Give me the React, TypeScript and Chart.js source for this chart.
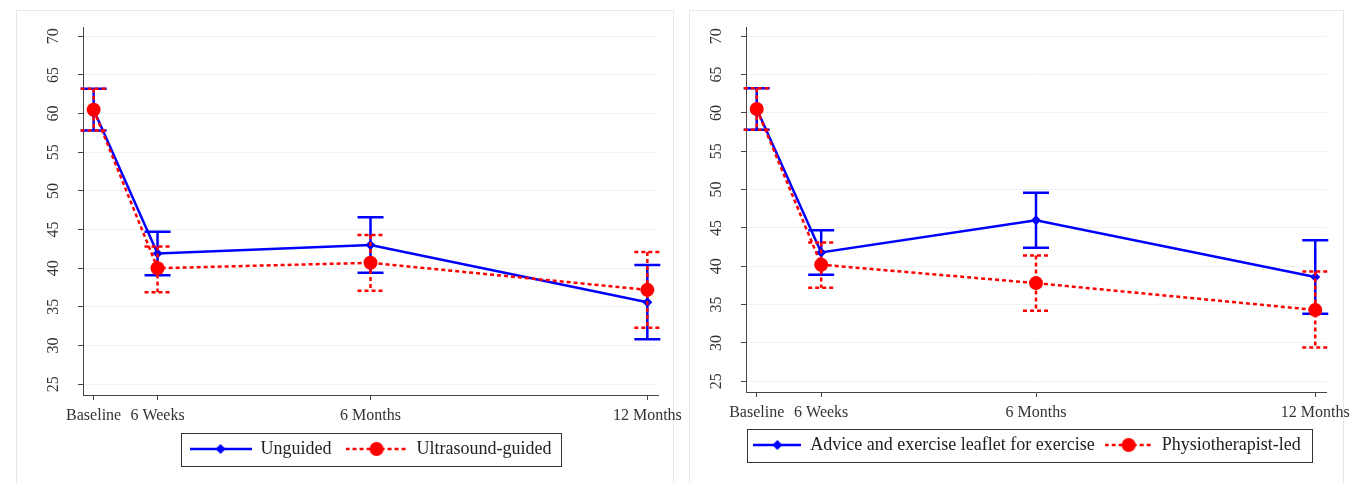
import React, { useEffect, useRef } from 'react';
import { Chart, registerables } from 'chart.js';

Chart.register(...registerables);

// ---- data ----
const WEEKS = [0, 6, 26, 52];
const X_LABELS = ['Baseline', '6 Weeks', '6 Months', '12 Months'];
const Y_TICKS = [25, 30, 35, 40, 45, 50, 55, 60, 65, 70];

// Left panel
const UNGUIDED_MEAN = [60.5, 41.9, 43.0, 35.6];
const UNGUIDED_LO = [57.8, 39.1, 39.4, 30.8];
const UNGUIDED_HI = [63.2, 44.7, 46.6, 40.4];
const ULTRASOUND_MEAN = [60.5, 40.0, 40.7, 37.2];
const ULTRASOUND_LO = [57.8, 36.9, 37.1, 32.3];
const ULTRASOUND_HI = [63.2, 42.8, 44.3, 42.1];

// Right panel
const ADVICE_MEAN = [60.5, 41.8, 46.0, 38.6];
const ADVICE_LO = [57.8, 38.9, 42.4, 33.8];
const ADVICE_HI = [63.2, 44.7, 49.6, 43.4];
const PHYSIO_MEAN = [60.5, 40.2, 37.8, 34.3];
const PHYSIO_LO = [57.8, 37.2, 34.2, 29.4];
const PHYSIO_HI = [63.2, 43.1, 41.4, 39.3];

const SERIF = '"Liberation Serif", "Times New Roman", Times, serif';
const BLUE = '#0000ff';
const RED = '#ff0000';
const AXIS = '#444444';
const GRID = '#eef2f2';
const TEXT = '#333333';
const DASH = [4, 3];
const LINE_W = 2.5;

type Series = {
  label: string;
  mean: number[];
  lo: number[];
  hi: number[];
  color: string;
  dashed: boolean;
  marker: 'circle' | 'rectRot';
  radius: number;
};

function makeSample(color: string, dashed: boolean, marker: string, radius: number, width: number) {
  const c = document.createElement('canvas');
  c.width = width;
  c.height = 16;
  const ctx = c.getContext('2d')!;
  ctx.strokeStyle = color;
  ctx.lineWidth = LINE_W;
  if (dashed) ctx.setLineDash(DASH);
  ctx.beginPath();
  ctx.moveTo(0, 8);
  ctx.lineTo(width, 8);
  ctx.stroke();
  ctx.setLineDash([]);
  ctx.fillStyle = color;
  ctx.beginPath();
  if (marker === 'circle') {
    ctx.arc(width / 2, 8, radius, 0, Math.PI * 2);
  } else {
    ctx.moveTo(width / 2, 8 - radius);
    ctx.lineTo(width / 2 + radius, 8);
    ctx.lineTo(width / 2, 8 + radius);
    ctx.lineTo(width / 2 - radius, 8);
    ctx.closePath();
  }
  ctx.fill();
  return c;
}

const errorBarPlugin = {
  id: 'errorBars',
  beforeDatasetDraw(chart: any, args: any) {
    const ds = chart.data.datasets[args.index];
    if (!ds.ciLow) return;
    const xs = chart.scales.x;
    const ys = chart.scales.y;
    const ctx = chart.ctx;
    const half = ds.capHalf || 13;
    ctx.save();
    ctx.strokeStyle = ds.borderColor;
    ctx.lineWidth = LINE_W;
    ctx.setLineDash(ds.borderDash || []);
    for (let i = 0; i < ds.data.length; i++) {
      const px = xs.getPixelForValue(ds.data[i].x);
      const pl = ys.getPixelForValue(ds.ciLow[i]);
      const ph = ys.getPixelForValue(ds.ciHigh[i]);
      ctx.beginPath();
      ctx.moveTo(px, ph);
      ctx.lineTo(px, pl);
      ctx.moveTo(px - half, ph);
      ctx.lineTo(px + half, ph);
      ctx.moveTo(px - half, pl);
      ctx.lineTo(px + half, pl);
      ctx.stroke();
    }
    ctx.restore();
  },
};

const legendBorderPlugin = {
  id: 'legendBorder',
  afterUpdate(chart: any, _args: any, opts: any) {
    const lg = chart.legend;
    const shift = (opts && opts.shiftX) || 0;
    if (!lg || !shift) return;
    lg.left += shift;
    lg.right += shift;
    (lg.legendHitBoxes || []).forEach((b: any) => {
      b.left += shift;
    });
  },
  afterDraw(chart: any, _args: any, opts: any) {
    const lg = chart.legend;
    if (!lg || !lg.legendHitBoxes || !lg.legendHitBoxes.length) return;
    const hb = lg.legendHitBoxes;
    let minL = Infinity;
    let maxR = -Infinity;
    hb.forEach((b: any) => {
      minL = Math.min(minL, b.left);
      maxR = Math.max(maxR, b.left + b.width);
    });
    const cy = hb[0].top + hb[0].height / 2;
    const left = Math.round(minL - (opts.padLeft || 6)) + 0.5;
    const right = Math.round(maxR + (opts.padRight || 8)) + 0.5;
    const top = Math.round(cy - 16.5) + 0.5;
    const bottom = Math.round(cy + 16.5) + 0.5;
    const ctx = chart.ctx;
    ctx.save();
    ctx.strokeStyle = '#333333';
    ctx.lineWidth = 1;
    ctx.setLineDash([]);
    ctx.strokeRect(left, top, right - left, bottom - top);
    ctx.restore();
  },
};

type PanelCfg = {
  left: number;
  width: number;
  boxWidth: number;
  yAxisWidth: number;
  xAxisHeight: number;
  padRight: number;
  padBottom: number;
  legendPadding: number;
  sampleWidth: number;
  boxPadLeft: number;
  boxPadRight: number;
  shiftX: number;
  series: Series[];
};

function Panel({ cfg }: { cfg: PanelCfg }) {
  const ref = useRef<HTMLCanvasElement>(null);
  useEffect(() => {
    if (!ref.current) return;
    const datasets = cfg.series.map((s, k) => ({
      label: s.label,
      data: WEEKS.map((w, i) => ({ x: w, y: s.mean[i] })),
      borderColor: s.color,
      backgroundColor: s.color,
      borderWidth: LINE_W,
      borderDash: s.dashed ? DASH : [],
      pointStyle: s.marker,
      pointRadius: s.radius,
      pointBorderWidth: 0,
      pointBackgroundColor: s.color,
      tension: 0,
      fill: false,
      order: cfg.series.length - k,
      ciLow: s.lo,
      ciHigh: s.hi,
      capHalf: 13,
    }));
    const samples = cfg.series.map((s) => makeSample(s.color, s.dashed, s.marker, s.radius, cfg.sampleWidth));
    const chart = new Chart(ref.current, {
      type: 'line',
      data: { datasets: datasets as any },
      plugins: [errorBarPlugin, legendBorderPlugin],
      options: {
        animation: false,
        responsive: false,
        maintainAspectRatio: false,
        layout: { padding: { top: 17, left: 0, right: cfg.padRight, bottom: cfg.padBottom } },
        scales: {
          x: {
            type: 'linear',
            min: -1,
            max: 53,
            afterBuildTicks: (scale: any) => {
              scale.ticks = WEEKS.map((v) => ({ value: v }));
            },
            afterFit: (scale: any) => {
              scale.height = cfg.xAxisHeight;
            },
            ticks: {
              autoSkip: false,
              maxRotation: 0,
              minRotation: 0,
              padding: 6,
              color: TEXT,
              font: { family: SERIF, size: 16 },
              callback: (v: any) => X_LABELS[WEEKS.indexOf(Number(v))] ?? '',
            },
            grid: {
              display: true,
              drawOnChartArea: false,
              drawTicks: true,
              tickLength: 5,
              tickColor: AXIS,
              color: AXIS,
            },
            border: { display: true, color: AXIS, width: 1 },
          },
          y: {
            type: 'linear',
            min: 23.6,
            max: 71.2,
            afterBuildTicks: (scale: any) => {
              scale.ticks = Y_TICKS.map((v) => ({ value: v }));
            },
            afterFit: (scale: any) => {
              scale.width = cfg.yAxisWidth;
              scale.paddingTop = 8;
              scale.paddingBottom = 8;
            },
            ticks: {
              minRotation: 90,
              maxRotation: 90,
              crossAlign: 'center',
              padding: 16,
              color: TEXT,
              font: { family: SERIF, size: 16 },
              callback: (v: any) => String(v),
            },
            grid: {
              display: true,
              drawOnChartArea: true,
              drawTicks: true,
              tickLength: 5,
              tickColor: AXIS,
              color: GRID,
              lineWidth: 1,
            },
            border: { display: true, color: AXIS, width: 1 },
          },
        },
        plugins: {
          tooltip: { enabled: false },
          legend: {
            display: true,
            position: 'bottom',
            fullSize: false,
            labels: {
              usePointStyle: true,
              pointStyleWidth: cfg.sampleWidth,
              padding: cfg.legendPadding,
              color: '#222222',
              font: { family: SERIF, size: 18 },
              generateLabels: () =>
                cfg.series.map((s, i) => ({
                  text: s.label,
                  pointStyle: samples[i] as any,
                  fillStyle: s.color,
                  strokeStyle: s.color,
                  lineWidth: 0,
                  hidden: false,
                  datasetIndex: i,
                  fontColor: '#222222',
                })),
            },
          },
          legendBorder: { padLeft: cfg.boxPadLeft, padRight: cfg.boxPadRight, shiftX: cfg.shiftX },
        } as any,
      },
    });
    return () => chart.destroy();
  }, [cfg]);

  return (
    <>
      <div
        style={{
          position: 'absolute',
          left: cfg.left,
          top: 10,
          width: cfg.boxWidth,
          height: 490,
          border: '1px solid #e2ecec',
          boxSizing: 'border-box',
          background: '#ffffff',
        }}
      />
      <canvas
        ref={ref}
        width={cfg.width}
        height={473}
        style={{ position: 'absolute', left: cfg.left, top: 10, width: cfg.width, height: 473 }}
      />
    </>
  );
}

const LEFT_CFG: PanelCfg = {
  left: 16,
  width: 690,
  boxWidth: 658,
  yAxisWidth: 67,
  xAxisHeight: 31,
  padRight: 48,
  padBottom: 15,
  legendPadding: 14,
  sampleWidth: 62,
  boxPadLeft: 9,
  boxPadRight: 10,
  shiftX: 0,
  series: [
    { label: 'Unguided', mean: UNGUIDED_MEAN, lo: UNGUIDED_LO, hi: UNGUIDED_HI, color: BLUE, dashed: false, marker: 'rectRot', radius: 5 },
    { label: 'Ultrasound-guided', mean: ULTRASOUND_MEAN, lo: ULTRASOUND_LO, hi: ULTRASOUND_HI, color: RED, dashed: true, marker: 'circle', radius: 7 },
  ],
};

const RIGHT_CFG: PanelCfg = {
  left: 689,
  width: 673,
  boxWidth: 655,
  yAxisWidth: 57,
  xAxisHeight: 34,
  padRight: 36,
  padBottom: 19,
  legendPadding: 10,
  sampleWidth: 48,
  boxPadLeft: 6,
  boxPadRight: 11,
  shiftX: -9,
  series: [
    { label: 'Advice and exercise leaflet for exercise', mean: ADVICE_MEAN, lo: ADVICE_LO, hi: ADVICE_HI, color: BLUE, dashed: false, marker: 'rectRot', radius: 5 },
    { label: 'Physiotherapist-led', mean: PHYSIO_MEAN, lo: PHYSIO_LO, hi: PHYSIO_HI, color: RED, dashed: true, marker: 'circle', radius: 7 },
  ],
};

export default function App() {
  return (
    <div
      style={{
        position: 'absolute',
        left: 0,
        top: 0,
        width: 1362,
        height: 483,
        overflow: 'hidden',
        background: '#ffffff',
      }}
    >
      <Panel cfg={LEFT_CFG} />
      <Panel cfg={RIGHT_CFG} />
    </div>
  );
}
